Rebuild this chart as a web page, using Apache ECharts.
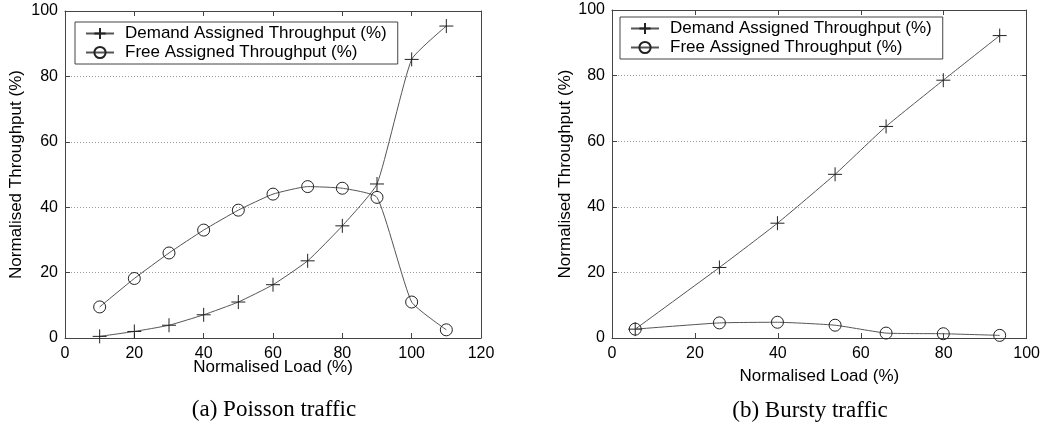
<!DOCTYPE html>
<html>
<head>
<meta charset="utf-8">
<script src="https://cdn.jsdelivr.net/npm/echarts@6/dist/echarts.min.js"></script>
<style>
html,body{margin:0;padding:0;background:#fff;}
#chart{width:1043px;height:431px;}
</style>
</head>
<body>
<div id="chart"></div>
<script>
// ---- Data ----
const seriesNames = ['Demand Assigned Throughput (%)', 'Free Assigned Throughput (%)'];
const captions = ['(a) Poisson traffic', '(b) Bursty traffic'];
const xAxisName = 'Normalised Load (%)';
const yAxisName = 'Normalised Throughput (%)';

// (a) Poisson traffic
const poissonLoad = [10, 20, 30, 40, 50, 60, 70, 80, 90, 100, 110];
const poissonDemand = [0.5, 2.0, 3.9, 7.1, 11.0, 16.3, 23.6, 34.3, 47.1, 85.2, 95.4];
const poissonFree = [9.5, 18.2, 26.0, 33.0, 39.1, 44.0, 46.3, 45.8, 43.0, 11.0, 2.5];

// (b) Bursty traffic
const burstyLoad = [5.6, 25.9, 39.9, 53.8, 66.1, 79.9, 93.5];
const burstyDemand = [2.7, 21.5, 35.0, 49.9, 64.5, 78.6, 92.2];
const burstyFree = [2.7, 4.6, 4.8, 3.9, 1.5, 1.3, 0.8];

const pair = (xs, ys) => xs.map((x, i) => [x, ys[i]]);

// ---- Styles ----
const FONT = 'Liberation Sans, Arial, sans-serif';
const frameColor = '#444';
const lineColor = '#555';
const markColor = '#222';
const PLUS = 'path://M0,5L10,5M5,0L5,10';

function mkSeries(name, data, xi, yi, isPlus) {
  return {
    type: 'line', name, data, xAxisIndex: xi, yAxisIndex: yi,
    symbol: isPlus ? PLUS : 'circle',
    symbolSize: isPlus ? 14 : 12,
    smooth: 0.15,
    showAllSymbol: true,
    color: markColor,
    lineStyle: { color: lineColor, width: 1 },
    itemStyle: { color: 'none', borderColor: markColor, borderWidth: 1 },
    emphasis: { disabled: true },
    z: isPlus ? 3 : 4
  };
}

function xAxes(gi, max, nameGap) {
  return [
    {
      gridIndex: gi, type: 'value', min: 0, max: max, interval: 20, position: 'bottom',
      name: xAxisName, nameLocation: 'middle', nameGap: nameGap, nameMoveOverlap: false,
      nameTextStyle: { fontFamily: FONT, fontSize: 17, color: '#000' },
      axisLine: { show: true, onZero: false, lineStyle: { color: frameColor, width: 1 } },
      axisTick: { show: true, inside: true, length: 5, lineStyle: { color: frameColor } },
      axisLabel: { fontFamily: FONT, fontSize: 16, color: '#000', margin: 8 },
      splitLine: { show: false }
    },
    {
      gridIndex: gi, type: 'value', min: 0, max: max, interval: 20, position: 'top',
      axisLine: { show: true, onZero: false, lineStyle: { color: frameColor, width: 1 } },
      axisTick: { show: true, inside: true, length: 5, lineStyle: { color: frameColor } },
      axisLabel: { show: false },
      splitLine: { show: false }
    }
  ];
}

function yAxes(gi, nameGap) {
  return [
    {
      gridIndex: gi, type: 'value', min: 0, max: 100, interval: 20, position: 'left',
      name: yAxisName, nameLocation: 'middle', nameGap: nameGap, nameMoveOverlap: false,
      nameTextStyle: { fontFamily: FONT, fontSize: 17, color: '#000' },
      axisLine: { show: true, onZero: false, lineStyle: { color: frameColor, width: 1 } },
      axisTick: { show: true, inside: true, length: 5, lineStyle: { color: frameColor } },
      axisLabel: { fontFamily: FONT, fontSize: 16, color: '#000', margin: 7 },
      splitLine: { show: true, lineStyle: { color: '#999', width: 1, type: [1, 2] } }
    },
    {
      gridIndex: gi, type: 'value', min: 0, max: 100, interval: 20, position: 'right',
      axisLine: { show: true, onZero: false, lineStyle: { color: frameColor, width: 1 } },
      axisTick: { show: true, inside: true, length: 5, lineStyle: { color: frameColor } },
      axisLabel: { show: false },
      splitLine: { show: false }
    }
  ];
}

function mkLegend(left, top) {
  return {
    left: left, top: top, orient: 'vertical',
    data: seriesNames,
    itemWidth: 28, itemHeight: 14, itemGap: 2,
    padding: [3, 11, 3, 10],
    borderColor: frameColor, borderWidth: 1,
    backgroundColor: '#fff',
    selectedMode: false,
    textStyle: { fontFamily: FONT, fontSize: 17, color: '#000', padding: [0, 0, 0, 6] }
  };
}

const chart = echarts.init(document.getElementById('chart'), null, { renderer: 'canvas' });
chart.setOption({
  animation: false,
  backgroundColor: '#fff',
  grid: [
    { left: 65, top: 11, width: 416, height: 327 },
    { left: 612, top: 10, width: 416, height: 328 }
  ],
  xAxis: [...xAxes(0, 120, 21), ...xAxes(1, 100, 30)],
  yAxis: [...yAxes(0, 40), ...yAxes(1, 38)],
  legend: [mkLegend(75, 22), mkLegend(620, 17)],
  graphic: [
    { type: 'text', x: 274, y: 410, style: { text: captions[0], font: '23px "Liberation Serif", serif', fill: '#000', align: 'center', verticalAlign: 'middle' } },
    { type: 'text', x: 810, y: 411, style: { text: captions[1], font: '23px "Liberation Serif", serif', fill: '#000', align: 'center', verticalAlign: 'middle' } }
  ],
  series: [
    mkSeries(seriesNames[0], pair(poissonLoad, poissonDemand), 0, 0, true),
    mkSeries(seriesNames[1], pair(poissonLoad, poissonFree), 0, 0, false),
    mkSeries(seriesNames[0], pair(burstyLoad, burstyDemand), 2, 2, true),
    mkSeries(seriesNames[1], pair(burstyLoad, burstyFree), 2, 2, false)
  ]
});
</script>
</body>
</html>
